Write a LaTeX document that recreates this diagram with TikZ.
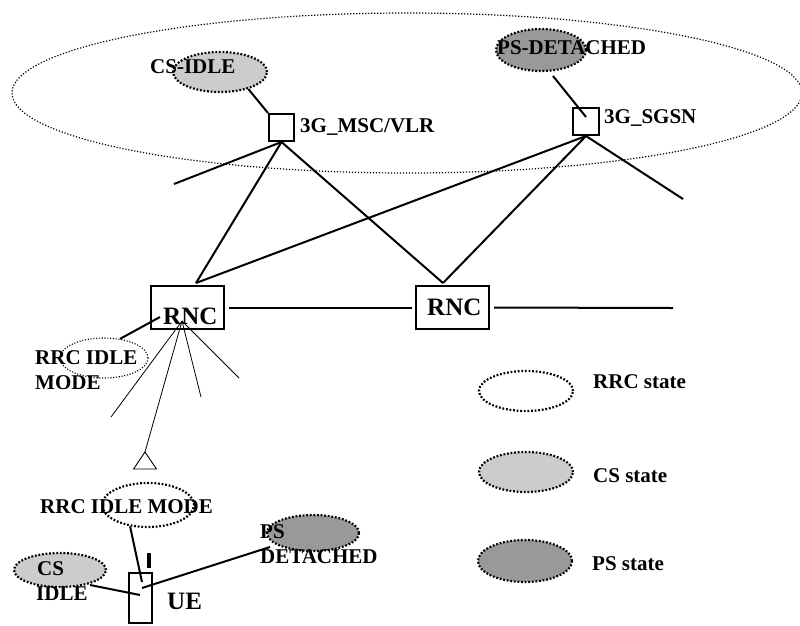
\documentclass[tikz,border=0pt]{standalone}
\usepackage{fontspec}
\setmainfont{Liberation Serif}
\usetikzlibrary{shapes.geometric}
\tikzset{
  conn/.style={line width=2pt},
  thinln/.style={line width=0.8pt},
  stbase/.style={ellipse, inner sep=0pt, line width=2.2pt, dash pattern=on 1.8pt off 1.8pt},
  rrcst/.style={stbase, draw=black},
  csst/.style={stbase, draw=black, fill=csgray},
  psst/.style={stbase, draw=black, fill=psgray},
  lbl/.style={anchor=base west, inner sep=0pt, font=\fontsize{21}{25}\selectfont\bfseries},
  biglbl/.style={anchor=base west, inner sep=0pt, font=\fontsize{25}{28}\selectfont\bfseries},
  netbox/.style={draw, line width=2pt, inner sep=0pt, fill=white},
}
\definecolor{csgray}{HTML}{CCCCCC}
\definecolor{psgray}{HTML}{999999}
\begin{document}
\begin{tikzpicture}[x=1pt,y=-1pt]
\useasboundingbox (0,0) rectangle (800,625);
% core network area
\node[ellipse, draw, line width=1.2pt, dash pattern=on 1.2pt off 1.8pt, minimum width=790pt, minimum height=160pt, inner sep=0pt] (core) at (407,93) {};
% state ellipses at core
\node[csst, minimum width=94pt, minimum height=40pt] (csidle) at (220,72) {};
\node[lbl] (csidlet) at (150,73) {CS-IDLE};
\node[psst, minimum width=90pt, minimum height=42pt] (psdet) at (541,50) {};
\node[lbl] (psdett) at (497,54) {PS-DETACHED};
% core nodes
\node[netbox, minimum width=25pt, minimum height=27pt] (msc) at (281.5,127.5) {};
\node[lbl] (msct) at (300,132) {3G\_MSC/VLR};
\node[netbox, minimum width=26pt, minimum height=27pt] (sgsn) at (586,121.5) {};
\node[lbl] (sgsnt) at (604,123) {3G\_SGSN};
% RNCs
\node[netbox, minimum width=73pt, minimum height=43pt] (rnc1) at (187.5,307.5) {};
\node[biglbl] (rnc1t) at (163,324) {RNC};
\node[netbox, minimum width=73pt, minimum height=43pt] (rnc2) at (452.5,307.5) {};
\node[biglbl] (rnc2t) at (427,315) {RNC};
% coordinates for free ends
\coordinate (mscend) at (174,184);
\coordinate (sgsnend) at (683,199);
\coordinate (rnc1top) at (196,283);
\coordinate (rnc2top) at (443,283);
\coordinate (rnc2end) at (673,308);
\coordinate (psin) at (586,117);
\coordinate (psout) at (553,76);
% core connectors
\draw[conn] (csidle.-31) -- (msc.north west);
\draw[conn] (psout) -- (psin);
\draw[conn] (msc.south) -- (mscend);
\draw[conn] (msc.south) -- (rnc1top);
\draw[conn] (msc.south) -- (rnc2top);
\draw[conn] (sgsn.south) -- (rnc1top);
\draw[conn] (sgsn.south) -- (rnc2top);
\draw[conn] (sgsn.south) -- (sgsnend);
\draw[conn, shorten <=4pt, shorten >=3pt] (rnc1.east) -- (rnc2.west);
\draw[conn, shorten <=4pt] (rnc2.east) -- (rnc2end);
% RRC idle at RNC
\node[ellipse, draw, line width=1.1pt, dash pattern=on 1.1pt off 1.7pt, minimum width=88pt, minimum height=40pt, inner sep=0pt] (rrc1) at (104,358) {};
\node[lbl] (rrc1t) at (35,364) {RRC IDLE};
\node[lbl] (rrc1t2) at (35,389) {MODE};
\coordinate (rnc1in) at (160,317);
\draw[conn] (rnc1in) -- (rrc1.50);
% radio fan
\coordinate (fan) at (182,321);
\coordinate (f1) at (111,417);
\coordinate (f3) at (201,397);
\coordinate (f4) at (239,378);
\coordinate (tri) at (145,452);
\draw[thinln] (fan) -- (f1);
\draw[thinln] (fan) -- (tri);
\draw[thinln] (fan) -- (f3);
\draw[thinln] (fan) -- (f4);
\draw[line width=0.9pt] (tri) -- ++(11.5,17) -- ++(-23,0) -- cycle;
% UE part
\node[rrcst, minimum width=92pt, minimum height=44pt] (rrc2) at (148,505) {};
\node[lbl] (rrc2t) at (40,513) {RRC IDLE MODE};
\node[csst, minimum width=92pt, minimum height=34pt] (csidle2) at (60,570) {};
\node[lbl] (cs2a) at (37,575) {CS};
\node[lbl] (cs2b) at (36,600) {IDLE};
\node[psst, minimum width=92pt, minimum height=36pt] (ps2) at (313,533) {};
\node[lbl] (ps2a) at (260,538) {PS};
\node[lbl] (ps2b) at (260,563) {DETACHED};
\node[draw, line width=1.3pt, inner sep=0pt, minimum width=23pt, minimum height=50pt] (ue) at (140.5,598) {};
\node[biglbl] (uet) at (167,609) {UE};
\draw[line width=4pt] (149,553) -- (149,568);
\coordinate (uein1) at (142,582);
\coordinate (uein2) at (140,595);
\coordinate (uein3) at (142,588);
\coordinate (csout) at (90,585);
\coordinate (psout2) at (270,547);
\draw[conn] (rrc2.-130) -- (uein1);
\draw[conn] (csout) -- (uein2);
\draw[conn] (uein3) -- (psout2);
% legend
\node[rrcst, minimum width=94pt, minimum height=40pt] (lrrc) at (526,391) {};
\node[lbl] (lrrct) at (593,388) {RRC state};
\node[csst, minimum width=94pt, minimum height=40pt] (lcs) at (526,472) {};
\node[lbl] (lcst) at (593,482) {CS state};
\node[psst, minimum width=94pt, minimum height=42pt] (lps) at (525,561) {};
\node[lbl] (lpst) at (592,570) {PS state};
\end{tikzpicture}
\end{document}
